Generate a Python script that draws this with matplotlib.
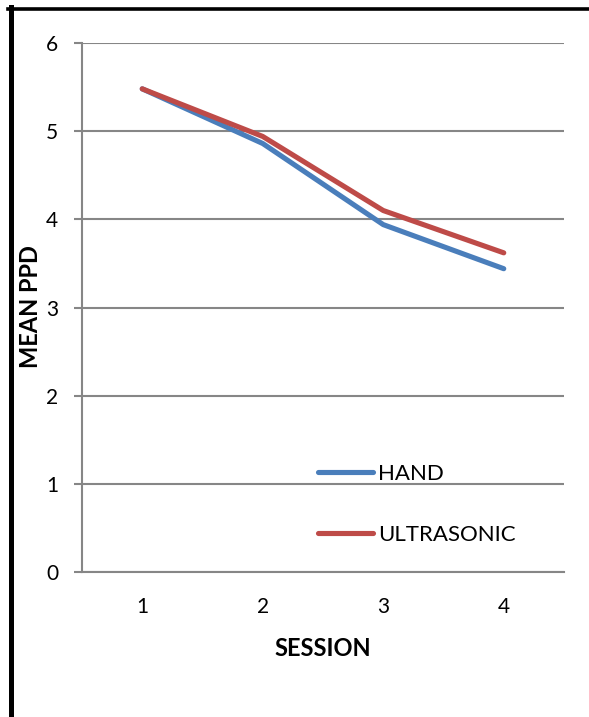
import matplotlib.pyplot as plt
from matplotlib.lines import Line2D

plt.rcParams['font.family'] = ['Lato', 'DejaVu Sans']

sessions = [1, 2, 3, 4]
hand = [5.48, 4.86, 3.94, 3.44]
ultrasonic = [5.48, 4.94, 4.10, 3.62]
y_ticks = [0, 1, 2, 3, 4, 5, 6]

W, H = 589, 717
fig = plt.figure(figsize=(W / 100, H / 100), dpi=100)
ax = fig.add_axes([82 / W, 1 - 572 / H, (564 - 82) / W, (572 - 43) / H])

grid_col = '#868686'
ax.plot(sessions, hand, color='#4A7EBB', lw=3.7, solid_capstyle='round',
        solid_joinstyle='round', label='HAND', zorder=3)
ax.plot(sessions, ultrasonic, color='#BE4B48', lw=3.7, solid_capstyle='round',
        solid_joinstyle='round', label='ULTRASONIC', zorder=4)

ax.set_xlim(0.5, 4.5)
ax.set_ylim(0, 6)
ax.set_xticks(sessions)
ax.set_yticks(y_ticks)
ax.yaxis.grid(True, color=grid_col, lw=1.5)
ax.set_axisbelow(True)

for s in ['top', 'right']:
    ax.spines[s].set_visible(False)
for s in ['left', 'bottom']:
    ax.spines[s].set_color(grid_col)
    ax.spines[s].set_linewidth(1.5)

ax.tick_params(axis='y', length=6, width=1.5, color=grid_col, pad=11, labelsize=15)
ax.tick_params(axis='x', length=0, pad=18, labelsize=15)

# axis titles, centred on fixed pixel positions
ax.set_xlabel('SESSION', fontsize=17, fontweight='bold')
ax.set_ylabel('MEAN PPD', fontsize=17, fontweight='bold')
ax.xaxis.label.set_va('center')
ax.yaxis.label.set_va('center')
ax.xaxis.set_label_coords(0.5, (572 - 649) / (572 - 43))
ax.yaxis.set_label_coords((31 - 82) / (564 - 82), (572 - 306.5) / (572 - 43))

ax.legend(loc='upper left', bbox_to_anchor=(318 / W, 1 - 464 / H),
          bbox_transform=fig.transFigure, frameon=False, fontsize=16,
          handlelength=2.48, handletextpad=0.22, labelspacing=1.83,
          borderpad=0, borderaxespad=0)

# black frame on the top and left edges
fig.add_artist(Line2D([8 / W, 1], [1 - 8.5 / H, 1 - 8.5 / H], color='black',
                      lw=2.6, transform=fig.transFigure))
fig.add_artist(Line2D([10.5 / W, 10.5 / W], [0, 1 - 7 / H], color='black',
                      lw=3.6, transform=fig.transFigure))

fig.savefig('out.png', dpi=100)
